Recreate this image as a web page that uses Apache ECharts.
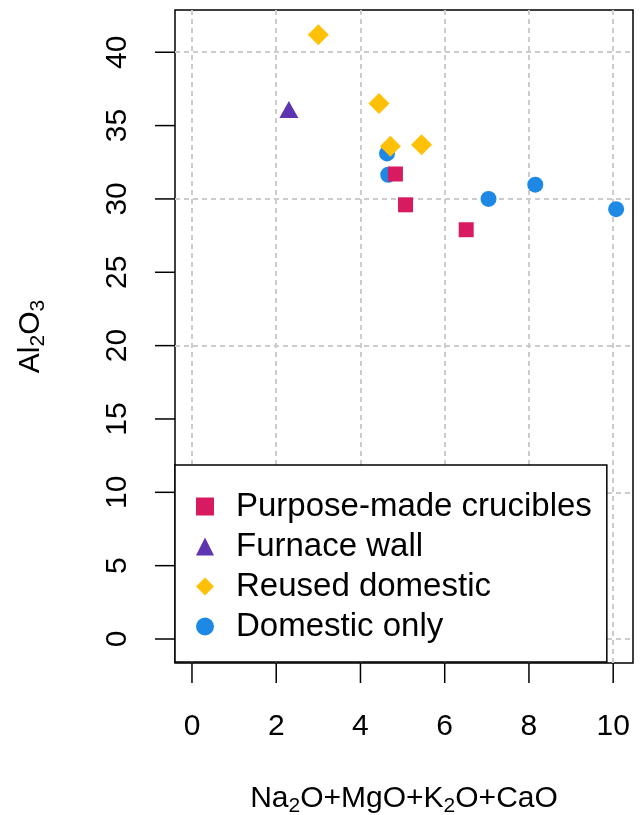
<!DOCTYPE html>
<html>
<head>
<meta charset="utf-8">
<script src="https://cdn.jsdelivr.net/npm/echarts@6/dist/echarts.min.js"></script>
<style>
  html, body { margin: 0; padding: 0; background: #fff; }
  #chart { width: 640px; height: 815px; }
</style>
</head>
<body>
<div id="chart"></div>
<script>
// values: [Na2O+MgO+K2O+CaO, Al2O3]
const purposeMade = [[4.83, 31.7], [5.07, 29.6], [6.51, 27.9]]
const furnaceWall = [[2.30, 36.1]]
const reusedDomestic = [[3.00, 41.2], [4.44, 36.5], [4.71, 33.6], [5.45, 33.7]]
const domesticOnly = [[4.63, 33.1], [4.66, 31.65], [7.04, 30.0], [8.15, 30.97], [10.07, 29.3]]

const xTicks = [0, 2, 4, 6, 8, 10]
const yTicks = [0, 5, 10, 15, 20, 25, 30, 35, 40]
const xGrid = [0, 2, 4, 6, 8, 10]
const yGrid = [0, 10, 20, 30, 40]

// axis extents (R style 4% padding)
const xMin = -0.403
const xMax = 10.47
const yMin = -1.636
const yMax = 42.88

const font = 'Liberation Sans, Arial, sans-serif'

// axis titles with subscripts
const titleRich = {
  m: { fontFamily: font, fontSize: 30, lineHeight: 22, color: '#000', verticalAlign: 'top' },
  s: { fontFamily: font, fontSize: 21, lineHeight: 14, color: '#000', verticalAlign: 'top', padding: [12, 0, 0, 0] }
}

const chart = echarts.init(document.getElementById('chart'))

const gridLines = [
  ...xGrid.map(v => ({ xAxis: v })),
  ...yGrid.map(v => ({ yAxis: v }))
]

// outward tick marks on the box edges
const xTickMarks = xTicks.map(v => [v, yMin])
const yTickMarks = yTicks.map(v => [xMin, v])

const option = {
  animation: false,
  backgroundColor: '#fff',
  grid: {
    left: 175, top: 10, right: 7, bottom: 152,
    outerBounds: { left: -200, top: -200, right: -200, bottom: -200 },
    show: true, borderColor: '#000', borderWidth: 1.5, backgroundColor: 'transparent'
  },
  xAxis: {
    type: 'value',
    min: xMin,
    max: xMax,
    axisLine: { show: false, onZero: false },
    splitLine: { show: false },
    axisTick: { show: false },
    axisLabel: { customValues: xTicks, margin: 49, fontFamily: font, fontSize: 30, color: '#000' },
    name: '{m|Na}{s|2}{m|O+MgO+K}{s|2}{m|O+CaO}',
    nameLocation: 'middle',
    nameGap: 121,
    nameMoveOverlap: false,
    nameTextStyle: { rich: titleRich }
  },
  yAxis: {
    type: 'value',
    min: yMin,
    max: yMax,
    axisLine: { show: false, onZero: false },
    splitLine: { show: false },
    axisTick: { show: false },
    axisLabel: { customValues: yTicks, rotate: 90, margin: 42, fontFamily: font, fontSize: 30, color: '#000' },
    name: '{m|Al}{s|2}{m|O}{s|3}',
    nameLocation: 'middle',
    nameRotate: 90,
    nameGap: 137,
    nameMoveOverlap: false,
    nameTextStyle: { rich: titleRich }
  },
  legend: {
    orient: 'vertical',
    left: 175,
    top: 465,
    z: 10,
    padding: [25, 15, 19, 21],
    itemWidth: 18,
    itemHeight: 18,
    itemGap: 7,
    backgroundColor: '#fff',
    borderColor: '#000',
    borderWidth: 1.5,
    borderRadius: 0,
    selectedMode: false,
    textStyle: { fontFamily: font, fontSize: 33, color: '#000', padding: [0, 0, 0, 17] },
    data: ['Purpose-made crucibles', 'Furnace wall', 'Reused domestic', 'Domestic only']
  },
  series: [
    {
      name: 'gridlines',
      type: 'line',
      data: [],
      silent: true,
      z: 1,
      markLine: {
        silent: true,
        z: 1,
        symbol: ['none', 'none'],
        label: { show: false },
        lineStyle: { color: '#cccccc', width: 2, type: [5, 4] },
        emphasis: { disabled: true },
        data: gridLines
      }
    },
    {
      name: 'xticks',
      type: 'scatter',
      silent: true,
      clip: false,
      symbol: 'rect',
      symbolSize: [1.5, 20],
      symbolOffset: [0, 10],
      itemStyle: { color: '#000', opacity: 1 },
      data: xTickMarks
    },
    {
      name: 'yticks',
      type: 'scatter',
      silent: true,
      clip: false,
      symbol: 'rect',
      symbolSize: [20, 1.5],
      symbolOffset: [-10, 0],
      itemStyle: { color: '#000', opacity: 1 },
      data: yTickMarks
    },
    {
      name: 'Domestic only',
      type: 'scatter',
      symbol: 'circle',
      symbolSize: 16,
      itemStyle: { color: '#1E88E5', opacity: 1 },
      data: domesticOnly
    },
    {
      name: 'Purpose-made crucibles',
      type: 'scatter',
      symbol: 'rect',
      symbolSize: 15,
      itemStyle: { color: '#D81B60', opacity: 1 },
      data: purposeMade
    },
    {
      name: 'Furnace wall',
      type: 'scatter',
      symbol: 'triangle',
      symbolSize: [19, 17],
      itemStyle: { color: '#5E35B1', opacity: 1 },
      data: furnaceWall
    },
    {
      name: 'Reused domestic',
      type: 'scatter',
      symbol: 'diamond',
      symbolSize: [21, 21],
      itemStyle: { color: '#FFC107', opacity: 1 },
      data: reusedDomestic
    }
  ]
}

chart.setOption(option)
</script>
</body>
</html>
